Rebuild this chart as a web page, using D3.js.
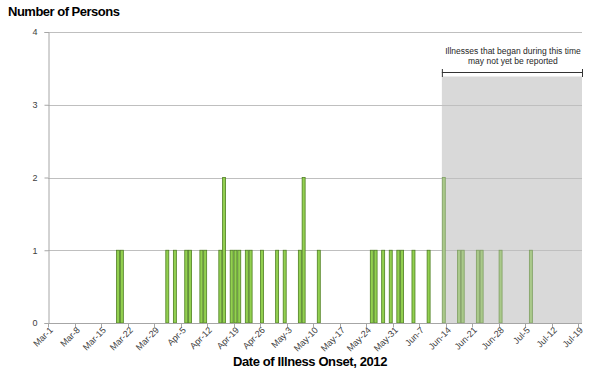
<!DOCTYPE html>
<html>
<head>
<meta charset="utf-8">
<script src="https://cdn.jsdelivr.net/npm/d3@7"></script>
<style>
  html, body { margin: 0; padding: 0; background: #fff; }
  svg { display: block; font-family: "Liberation Sans", Arial, sans-serif; }
</style>
</head>
<body>
<svg id="chart" width="600" height="376"></svg>
<script>
// ---- data ----
const firstDay = "2012-03-01";
const lastDay = "2012-07-19";
const onsetDates = ["Mar-19","Mar-20","Apr-1","Apr-3","Apr-6","Apr-7","Apr-10","Apr-11",
  "Apr-15","Apr-16","Apr-18","Apr-19","Apr-20","Apr-22","Apr-23","Apr-26","Apr-30",
  "May-2","May-6","May-7","May-11","May-25","May-26","May-28","May-30","Jun-1","Jun-2",
  "Jun-5","Jun-9","Jun-13","Jun-17","Jun-18","Jun-22","Jun-23","Jun-28","Jul-6"];
const caseCounts = [1,1,1,1,1,1,1,1,
  1,2,1,1,1,1,1,1,1,
  1,1,2,1,1,1,1,1,1,1,
  1,1,2,1,1,1,1,1,1];
const tickLabels = ["Mar-1","Mar-8","Mar-15","Mar-22","Mar-29","Apr-5","Apr-12","Apr-19",
  "Apr-26","May-3","May-10","May-17","May-24","May-31","Jun-7","Jun-14","Jun-21","Jun-28",
  "Jul-5","Jul-12","Jul-19"];
const yTicks = [0,1,2,3,4];
const shadeStart = "Jun-13";
const noteLines = ["Illnesses that began during this time", "may not yet be reported"];
const yTitle = "Number of Persons";
const xTitle = "Date of Illness Onset, 2012";

// ---- chart ----
(function () {
const fmt = d3.timeFormat("%b-%-d");
const parse = d3.timeParse("%Y-%m-%d");
const days = d3.timeDay.range(parse(firstDay), d3.timeDay.offset(parse(lastDay), 1)).map(fmt);

const svg = d3.select("#chart");
const pLeft = 48, pRight = 582, pTop = 32, pBottom = 323;

const x = d3.scaleBand().domain(days).range([pLeft, pRight]).padding(0);
const y = d3.scaleLinear().domain([0, 4]).range([pBottom, pTop]);
const bw = x.bandwidth();

// shaded region
const sx = x(shadeStart);
svg.append("rect")
  .attr("x", sx).attr("y", 76.5)
  .attr("width", pRight - sx).attr("height", pBottom - 76.5)
  .attr("fill", "#d9d9d9");

// gridlines
svg.append("g").selectAll("line").data(yTicks.filter(d => d > 0)).join("line")
  .attr("x1", pLeft).attr("x2", pRight)
  .attr("y1", d => Math.round(y(d)) + 0.5).attr("y2", d => Math.round(y(d)) + 0.5)
  .attr("stroke", "#bfbfbf").attr("stroke-width", 1);

// bars
const bars = onsetDates.map((d, i) => ({ day: d, value: caseCounts[i] }));
const shadeIdx = days.indexOf(shadeStart);
svg.append("g").selectAll("rect").data(bars).join("rect")
  .attr("x", d => x(d.day) + 0.4)
  .attr("width", bw - 0.8)
  .attr("y", d => y(d.value))
  .attr("height", d => y(0) - y(d.value))
  .attr("fill", d => days.indexOf(d.day) >= shadeIdx ? "#aac98b" : "#92d050")
  .attr("stroke", d => days.indexOf(d.day) >= shadeIdx ? "#7f9f62" : "#4f7f22")
  .attr("stroke-width", 0.8);

// y axis
const yAxis = svg.append("g").attr("transform", `translate(${pLeft + 0.5},0)`)
  .call(d3.axisLeft(y).tickValues(yTicks).tickSize(4).tickPadding(7).tickFormat(d3.format("d")));
yAxis.select(".domain").attr("stroke", "#a6a6a6");
yAxis.selectAll(".tick line").attr("stroke", "#a6a6a6");
yAxis.selectAll(".tick text").attr("font-size", 9).attr("fill", "#404040")
  .attr("font-family", "Liberation Sans, Arial, sans-serif");

// x axis
const xAxisG = svg.append("g").attr("transform", `translate(0,${pBottom + 0.5})`);
xAxisG.append("line").attr("x1", pLeft).attr("x2", pRight).attr("stroke", "#a6a6a6");
const ticks = xAxisG.selectAll("g.tick").data(tickLabels).join("g")
  .attr("class", "tick")
  .attr("transform", d => `translate(${Math.round(x(d)) + 0.5},0)`);
ticks.append("line").attr("y1", 0).attr("y2", 4).attr("stroke", "#a6a6a6");
ticks.append("text")
  .attr("transform", `translate(${bw / 2 + 1},5) rotate(-45)`)
  .attr("text-anchor", "end")
  .attr("dy", "0.35em")
  .attr("font-size", 9)
  .attr("fill", "#404040")
  .text(d => d);

// titles
svg.append("text").attr("x", 8).attr("y", 16)
  .attr("font-size", 13).attr("font-weight", "bold").attr("letter-spacing", "-0.5px")
  .attr("fill", "#000").text(yTitle);
svg.append("text").attr("x", 310).attr("y", 366)
  .attr("text-anchor", "middle")
  .attr("font-size", 13).attr("font-weight", "bold").attr("letter-spacing", "-0.4px")
  .attr("fill", "#000").text(xTitle);

// annotation
const noteG = svg.append("g");
noteG.selectAll("text").data(noteLines).join("text")
  .attr("x", (sx + pRight) / 2 + 1)
  .attr("y", (d, i) => 54 + i * 9.5)
  .attr("text-anchor", "middle")
  .attr("font-size", 8.5)
  .attr("fill", "#262626")
  .text(d => d);
noteG.append("line").attr("x1", sx).attr("x2", pRight + 1).attr("y1", 72.5).attr("y2", 72.5)
  .attr("stroke", "#333").attr("stroke-width", 1);
noteG.append("line").attr("x1", sx + 0.5).attr("x2", sx + 0.5).attr("y1", 69).attr("y2", 77)
  .attr("stroke", "#333").attr("stroke-width", 1);
noteG.append("line").attr("x1", pRight + 0.5).attr("x2", pRight + 0.5).attr("y1", 69).attr("y2", 77)
  .attr("stroke", "#333").attr("stroke-width", 1);
})();
</script>
</body>
</html>
